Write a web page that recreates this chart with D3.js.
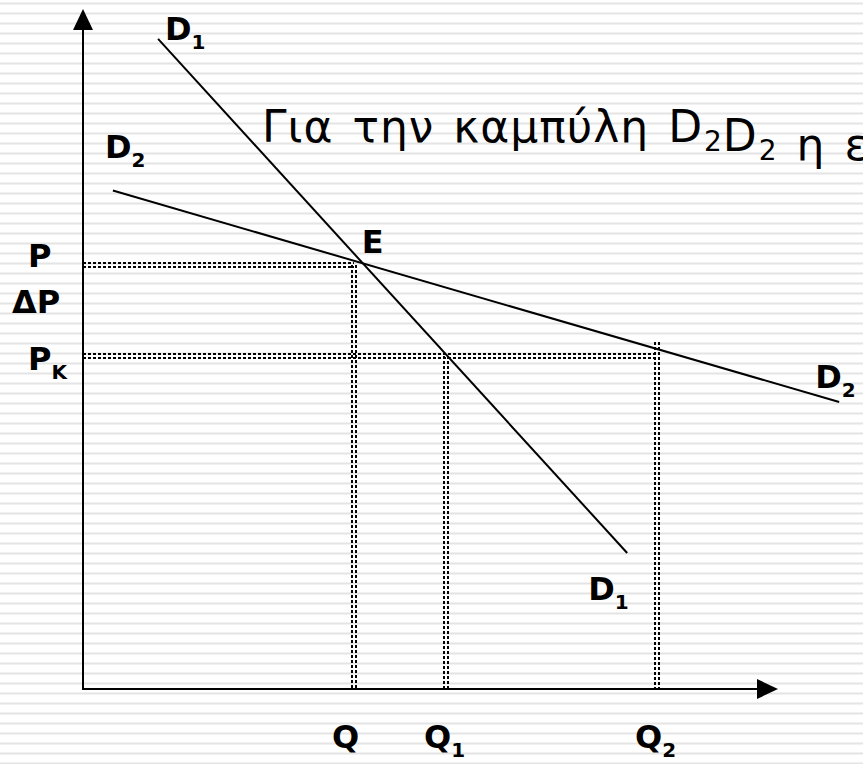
<!DOCTYPE html>
<html>
<head>
<meta charset="utf-8">
<script src="https://cdn.jsdelivr.net/npm/d3@7"></script>
<style>
  html, body { margin: 0; padding: 0; background: #fff; overflow: hidden; }
  text { font-family: "DejaVu Sans", Verdana, sans-serif; fill: #000; }
</style>
</head>
<body>
<div id="chart"></div>
<script>
// quantities on the horizontal axis
const qLabels = ["Q", "Q1", "Q2"];
const qValues = [38.99, 52.23, 82.59];
const qTops = [62.28, 48.9, 51.0];   // price where each guide stops

// prices on the vertical axis
const pLabels = ["P", "PK"];
const pValues = [62.28, 48.9];
const pEnds = [38.99, 82.59];        // quantity where each guide stops

// demand curves, two end points each [quantity, price]
const demandD1 = [[10.8, 95.6], [78.3, 20.0]];
const demandD2 = [[4.3, 73.3], [108.8, 42.2]];
const pointE = [40.1, 62.7];

// slide text (runs off the right edge, as on the slide)
const titleParts = [
  ["Για την καμπύλη D", false],
  ["2", true],
  ["D", false],
  ["2", true],
  [" η ελαστικότητα είναι μεγαλύτερη", false]
];

const W = 863, H = 764;

const svg = d3.select("#chart")
  .append("svg")
  .attr("width", W)
  .attr("height", H);

// striped slide background
svg.append("rect").attr("width", W).attr("height", H).attr("fill", "#fff");
svg.append("g")
  .selectAll("rect")
  .data(d3.range(2.5, H, 10))
  .enter()
  .append("rect")
    .attr("x", 0)
    .attr("y", d => d)
    .attr("width", W)
    .attr("height", 2)
    .attr("fill", "#e4e4e4");

// scales
const x = d3.scaleLinear().domain([0, 100]).range([83, 778]);
const y = d3.scaleLinear().domain([0, 100]).range([689, 9]);

const line = d3.line()
  .x(d => x(d[0]))
  .y(d => y(d[1]));

// double dotted guide lines
function guide(pts, dx, dy) {
  [-2, 2].forEach(o => {
    svg.append("path")
      .attr("fill", "none")
      .attr("stroke", "#000")
      .attr("stroke-width", 2)
      .attr("stroke-dasharray", "3 2")
      .attr("d", d3.line()
        .x(d => Math.round(x(d[0])) + o * dx)
        .y(d => Math.round(y(d[1])) + o * dy)(pts));
  });
}
pValues.forEach((p, i) => {
  guide([[0, p], [pEnds[i], p]], 0, 1);
});
qValues.forEach((q, i) => {
  guide([[q, qTops[i]], [q, 0]], 1, 0);
});

// axes
svg.append("line")
  .attr("x1", x(0)).attr("y1", y(0) + 1)
  .attr("x2", x(0)).attr("y2", y(100) + 18)
  .attr("stroke", "#000").attr("stroke-width", 2);
svg.append("line")
  .attr("x1", x(0) - 1).attr("y1", y(0))
  .attr("x2", x(100) - 18).attr("y2", y(0))
  .attr("stroke", "#000").attr("stroke-width", 2);
// arrow heads
svg.append("path")
  .attr("d", `M${x(0)},${y(100)} L${x(0) + 10},${y(100) + 21} L${x(0) - 10},${y(100) + 21} Z`)
  .attr("fill", "#000");
svg.append("path")
  .attr("d", `M${x(100)},${y(0)} L${x(100) - 21},${y(0) - 10} L${x(100) - 21},${y(0) + 10} Z`)
  .attr("fill", "#000");

// demand curves
[demandD1, demandD2].forEach(c => {
  svg.append("path")
    .datum(c)
    .attr("fill", "none")
    .attr("stroke", "#000")
    .attr("stroke-width", 2)
    .attr("d", line);
});

// bold label with optional subscript
function label(px, py, main, sub, anchor) {
  const t = svg.append("text")
    .attr("x", px)
    .attr("y", py)
    .attr("font-size", 32)
    .attr("font-weight", "bold")
    .attr("text-anchor", anchor || "start");
  t.append("tspan").text(main);
  if (sub) {
    t.append("tspan")
      .attr("font-size", 20)
      .attr("dy", 9)
      .text(sub);
  }
  return t;
}

// price labels
label(28, y(pValues[0]) + 2, "P");
label(12, (y(pValues[0]) + y(pValues[1])) / 2 + 2, "ΔP");
label(28, y(pValues[1]) + 14, "P", "K");

// quantity labels
qLabels.forEach((q, i) => {
  label(x(qValues[i]) - 22, 748, "Q", q.slice(1));
});

// curve labels
label(x(demandD1[0][0]) + 7, y(demandD1[0][1]) + 1, "D", "1");
label(x(demandD1[1][0]) - 39, y(demandD1[1][1]) + 47, "D", "1");
label(x(demandD2[0][0]) - 8, y(demandD2[0][1]) - 33, "D", "2");
label(x(demandD2[1][0]) - 24, y(demandD2[1][1]) - 14, "D", "2");
label(x(pointE[0]), y(pointE[1]) - 10, "E");

// slide text
const title = svg.append("text")
  .attr("x", 262)
  .attr("y", 142)
  .attr("font-size", 44)
  .style("letter-spacing", "1px")
  .style("word-spacing", "4px");
titleParts.forEach(([s, isSub]) => {
  title.append("tspan")
    .attr("font-size", isSub ? 28 : 44)
    .attr("dy", isSub ? 9 : null)
    .attr("dx", isSub ? 1 : null)
    .text(s);
  if (isSub) title.append("tspan").attr("dy", -9).attr("dx", 2).text("");
});
</script>
</body>
</html>
